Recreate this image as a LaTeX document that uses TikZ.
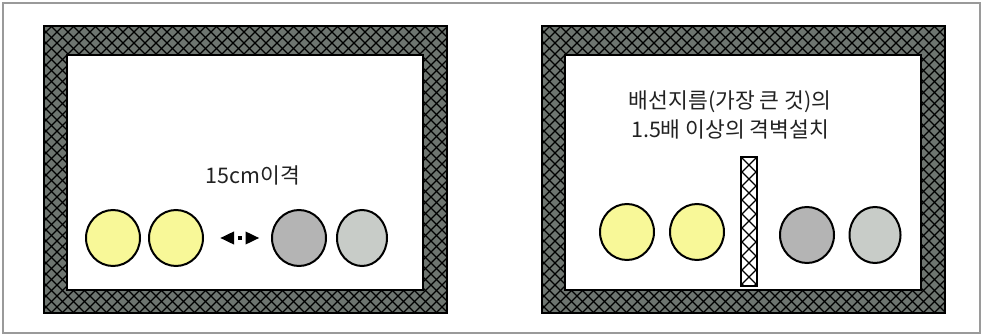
\documentclass[tikz,border=0pt]{standalone}
\usepackage{fontspec}
\newfontfamily\kr{Noto Sans CJK KR}
\usepackage{tikz}
\usetikzlibrary{arrows.meta,shapes.geometric}
\definecolor{yelx}{HTML}{F8F898}
\definecolor{darkball}{HTML}{B4B4B4}
\definecolor{lightball}{HTML}{C8CCC8}
\definecolor{meshgray}{HTML}{6E7570}
\definecolor{framegray}{HTML}{9A9A9A}
\definecolor{inkx}{HTML}{222222}
\tikzset{
  ball/.style={draw=black,line width=2pt,ellipse,minimum width=54pt,minimum height=56pt,inner sep=0pt},
  mesh/.style={black,line width=1.1pt},
  gapar/.style={{Triangle[length=14pt,width=12pt]}-{Triangle[length=14pt,width=12pt]},black,line width=3.5pt,dash pattern=on 0pt off 5pt on 4pt off 20pt},
  lbl/.style={font=\kr\fontsize{21.5}{29}\selectfont,text=inkx,inner sep=0pt,align=center}
}
\begin{document}
\begin{tikzpicture}[x=1pt,y=1pt]
\useasboundingbox (0,0) rectangle (982,335);
\draw[framegray,line width=1.5pt] (3,2) rectangle (980,332);
% two meshed frames
\foreach \xo in {44,542} {
  \fill[meshgray] (\xo,22) rectangle (\xo+403,309);
  \begin{scope}
    \clip (\xo,22) rectangle (\xo+403,309);
    \foreach \i in {-290,-279,...,410} {
      \draw[mesh] (\xo+\i,22) -- (\xo+\i+287,309);
      \draw[mesh] (\xo+\i,309) -- (\xo+\i+287,22);
    }
  \end{scope}
  \draw[line width=2pt] (\xo,22) rectangle (\xo+403,309);
  \draw[line width=2pt,fill=white] (\xo+23,45) rectangle (\xo+379,280);
}
% partition wall
\fill[white] (741,49) rectangle (757,178);
\begin{scope}
  \clip (741,49) rectangle (757,178);
  \foreach \j in {-20,-6,...,190} {
    \draw[mesh] (741,\j) -- (757,\j+16);
    \draw[mesh] (741,\j+16) -- (757,\j);
  }
\end{scope}
\draw[line width=2pt] (741,49) rectangle (757,178);
% left cables
\node[ball,fill=yelx] (l1) at (113,97) {};
\node[ball,fill=yelx] (l2) at (176,97) {};
\node[ball,fill=darkball] (l3) at (299,97) {};
\node[ball,fill=lightball,minimum width=50pt] (l4) at (362,97) {};
\draw[gapar,shorten <=16pt,shorten >=11.5pt] (l2) -- (l3);
\node[lbl] (gap) at (253,160) {15cm이격};
% right cables
\node[ball,fill=yelx] (r1) at (627,103) {};
\node[ball,fill=yelx] (r2) at (697,103) {};
\node[ball,fill=darkball] (r3) at (807,100) {};
\node[ball,fill=lightball,minimum width=51pt] (r4) at (875,100) {};
\node[lbl] (rule) at (730,220) {배선지름(가장 큰 것)의\\1.5배 이상의 격벽설치};
\end{tikzpicture}
\end{document}
